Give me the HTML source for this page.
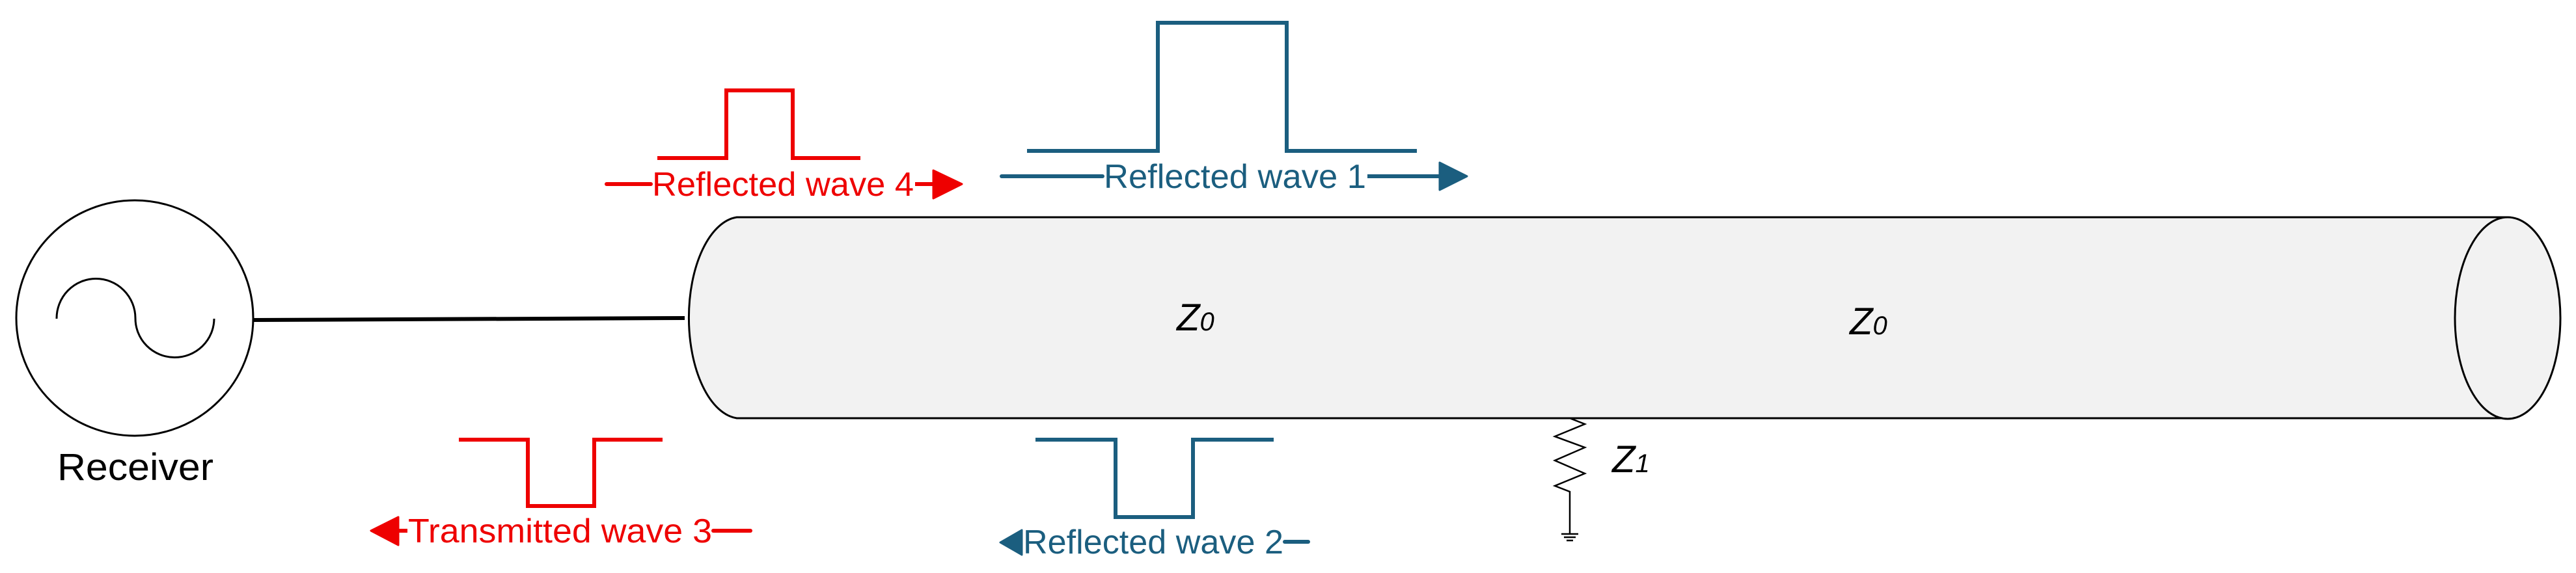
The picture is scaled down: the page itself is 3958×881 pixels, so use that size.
<!DOCTYPE html>
<html><head><meta charset="utf-8"><style>
html,body{margin:0;padding:0;background:#fff;}
svg{display:block;}
text{font-family:"Liberation Sans Narrow","Liberation Sans",sans-serif;}
</style></head><body>
<svg width="3958" height="881" viewBox="0 0 3958 881" xmlns="http://www.w3.org/2000/svg">
<!-- Receiver -->
<ellipse cx="207" cy="489" rx="182" ry="181" fill="none" stroke="#000" stroke-width="3"/>
<path d="M87,490 A60.5,61 0 0 1 208,489 A60.5,60 0 0 0 329,490" fill="none" stroke="#000" stroke-width="3"/>
<text x="88" y="738" font-size="58" textLength="240" lengthAdjust="spacingAndGlyphs" fill="#000">Receiver</text>
<line x1="390" y1="492" x2="1052" y2="489" stroke="#000" stroke-width="6"/>
<!-- Cylinder -->
<path d="M1132,334 L3853,334 L3853,643 L1132,643 A80,155 0 0 1 1132,334 Z" fill="#f2f2f2" stroke="#000" stroke-width="3"/>
<ellipse cx="3853" cy="489" rx="81" ry="155" fill="#f2f2f2" stroke="#000" stroke-width="3"/>
<text x="1808" y="508" font-size="58" font-style="italic" fill="#000">Z<tspan font-size="40">0</tspan></text>
<text x="2842" y="514" font-size="58" font-style="italic" fill="#000">Z<tspan font-size="40">0</tspan></text>
<!-- Resistor -->
<polyline points="2412,643 2435,652 2389,671 2435,688 2389,708 2435,728 2389,747 2412,756 2412,821" fill="none" stroke="#000" stroke-width="2.5"/>
<line x1="2399" y1="821" x2="2425" y2="821" stroke="#000" stroke-width="2.5"/>
<line x1="2403" y1="826" x2="2421" y2="826" stroke="#000" stroke-width="2.5"/>
<line x1="2407" y1="831" x2="2417" y2="831" stroke="#000" stroke-width="2.5"/>
<text x="2477" y="726" font-size="58" font-style="italic" fill="#000">Z<tspan font-size="40">1</tspan></text>
<!-- Red reflected wave 4 -->
<polyline points="1010,243 1116,243 1116,139 1218,139 1218,243 1322,243" fill="none" stroke="#ee0000" stroke-width="6"/>
<line x1="932" y1="283" x2="1000" y2="283" stroke="#ee0000" stroke-width="6" stroke-linecap="round"/>
<text x="1002" y="301" font-size="52" textLength="402" lengthAdjust="spacingAndGlyphs" fill="#ee0000">Reflected wave 4</text>
<line x1="1406" y1="283" x2="1440" y2="283" stroke="#ee0000" stroke-width="6"/>
<polygon points="1434,262 1478,283 1434,305" fill="#ee0000" stroke="#ee0000" stroke-width="3" stroke-linejoin="round"/>
<!-- Red transmitted wave 3 -->
<polyline points="705,676 811,676 811,778 913,778 913,676 1018,676" fill="none" stroke="#ee0000" stroke-width="6"/>
<polygon points="612,795 570,816 612,838" fill="#ee0000" stroke="#ee0000" stroke-width="3" stroke-linejoin="round"/>
<line x1="605" y1="816" x2="626" y2="816" stroke="#ee0000" stroke-width="6"/>
<text x="627" y="834" font-size="52" textLength="467" lengthAdjust="spacingAndGlyphs" fill="#ee0000">Transmitted wave 3</text>
<line x1="1096" y1="816" x2="1153" y2="816" stroke="#ee0000" stroke-width="6" stroke-linecap="round"/>
<!-- Blue reflected wave 1 -->
<polyline points="1578,232 1779,232 1779,35 1977,35 1977,232 2177,232" fill="none" stroke="#1b5e7f" stroke-width="6"/>
<line x1="1539" y1="271" x2="1694" y2="271" stroke="#1b5e7f" stroke-width="6" stroke-linecap="round"/>
<text x="1696" y="289" font-size="52" textLength="403" lengthAdjust="spacingAndGlyphs" fill="#1b5e7f">Reflected wave 1</text>
<line x1="2101" y1="271" x2="2215" y2="271" stroke="#1b5e7f" stroke-width="6"/>
<polygon points="2212,250 2254,271 2212,292" fill="#1b5e7f" stroke="#1b5e7f" stroke-width="3" stroke-linejoin="round"/>
<!-- Blue reflected wave 2 -->
<polyline points="1591,676 1714,676 1714,795 1833,795 1833,676 1957,676" fill="none" stroke="#1b5e7f" stroke-width="6"/>
<polygon points="1570,815 1537,834 1570,853" fill="#1b5e7f" stroke="#1b5e7f" stroke-width="3" stroke-linejoin="round"/>
<text x="1572" y="851" font-size="52" textLength="400" lengthAdjust="spacingAndGlyphs" fill="#1b5e7f">Reflected wave 2</text>
<line x1="1974" y1="833" x2="2010" y2="833" stroke="#1b5e7f" stroke-width="6" stroke-linecap="round"/>
</svg>
</body></html>
